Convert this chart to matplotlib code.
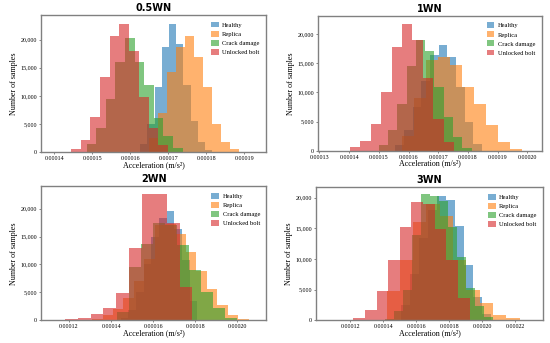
import numpy as np
import matplotlib
matplotlib.use('Agg')
import matplotlib.pyplot as plt
from matplotlib.ticker import FuncFormatter, FormatStrFormatter

series = ['Healthy', 'Replica', 'Crack damage', 'Unlocked bolt']
colors = ['tab:blue', 'tab:orange', 'tab:green', 'tab:red']
titles = ['0.5WN', '1WN', '2WN', '3WN']

# (min, max) of each histogram and its bin counts
range_05wn = [(0.0001626, 0.0001816), (0.0001650, 0.0001886), (0.0001485, 0.0001738), (0.0001444, 0.0001699)]
counts_05wn = [
    [1500, 5000, 11600, 18700, 22800, 19300, 12000, 5500, 1800, 400],
    [2500, 7000, 14300, 18700, 20700, 17000, 11600, 5000, 1800, 500],
    [1500, 4200, 9500, 16000, 20400, 16000, 11900, 6000, 2800, 700],
    [500, 2100, 6200, 13400, 20600, 22900, 18000, 9800, 4200, 1200],
]

range_1wn = [(0.0001555, 0.0001847), (0.0001578, 0.0001982), (0.0001499, 0.0001813), (0.0001403, 0.0001753)]
counts_1wn = [
    [1000, 3500, 7500, 12000, 16400, 18100, 16100, 11000, 5000, 1200],
    [2500, 9000, 15500, 16000, 14700, 11000, 8000, 4400, 1500, 340],
    [1000, 3500, 8000, 14500, 18900, 17000, 10950, 5840, 2440, 500],
    [730, 1700, 4550, 10100, 17770, 21750, 18900, 12500, 5500, 1500],
]

range_2wn = [(0.0001445, 0.0001810), (0.0001310, 0.0002053), (0.0001426, 0.0001998), (0.0001183, 0.0001786)]
counts_2wn = [
    [400, 1800, 5000, 10000, 15000, 18300, 19500, 16400, 10800, 3500],
    [300, 900, 2000, 4000, 7000, 11000, 17000, 17300, 15500, 12300, 8750, 5650, 2800, 1000, 240],
    [1500, 9500, 13600, 17500, 17000, 13500, 9000, 5000, 2200, 500],
    [200, 420, 1130, 2200, 4900, 13000, 22700, 22600, 17400, 6000],
]

range_3wn = [(0.0001505, 0.0002055), (0.0001420, 0.0002228), (0.0001412, 0.0002067), (0.0001218, 0.0001925)]
counts_3wn = [
    [2500, 7500, 13500, 18000, 20300, 19600, 15400, 9000, 3800, 1100],
    [4800, 9800, 16000, 18900, 17000, 9800, 4950, 2800, 900, 380],
    [300, 1500, 5000, 14000, 20600, 20300, 19500, 15200, 10300, 5200, 2300, 600],
    [380, 1700, 4800, 9800, 15300, 19300, 18900, 14900, 9800, 3600],
]

xlims = [(0.0001365, 0.0001957), (0.0001294, 0.0002048), (0.0001067, 0.0002138), (0.0000992, 0.0002370)]
ylims = [24400, 23100, 24000, 21700]
xticks = [np.arange(0.00014, 0.000191, 0.00001),
          np.arange(0.00013, 0.000201, 0.00001),
          np.arange(0.00012, 0.000201, 0.00002),
          np.arange(0.00012, 0.000221, 0.00002)]
boxes = [[0.0745, 0.557, 0.409, 0.399],
         [0.5776, 0.560, 0.407, 0.394],
         [0.0745, 0.066, 0.410, 0.391],
         [0.5745, 0.066, 0.413, 0.388]]

plt.rcParams['font.family'] = ['Liberation Serif', 'DejaVu Serif']

fig = plt.figure(figsize=(5.5, 3.43), dpi=100)
data = [(range_05wn, counts_05wn), (range_1wn, counts_1wn),
        (range_2wn, counts_2wn), (range_3wn, counts_3wn)]

for i, (ranges, counts) in enumerate(data):
    ax = fig.add_axes(boxes[i])
    for (lo, hi), c, col, name in zip(ranges, counts, colors, series):
        edges = np.linspace(lo, hi, len(c) + 1)
        ax.stairs(c, edges, fill=True, color=col, alpha=0.6, label=name, linewidth=0)
    ax.set_xlim(*xlims[i])
    ax.set_ylim(0, ylims[i])
    ax.set_xticks(xticks[i])
    ax.xaxis.set_major_formatter(FormatStrFormatter('%.5f'))
    ax.set_yticks([0, 5000, 10000, 15000, 20000])
    ax.yaxis.set_major_formatter(FuncFormatter(lambda v, p: '{:,.0f}'.format(v)))
    ax.tick_params(labelsize=4.3, length=1.5, width=0.5, pad=1.2, color='#555555')
    for s in ax.spines.values():
        s.set_color('#808080')
        s.set_linewidth(1.0)
    ax.set_xlabel('Acceleration (m/s²)', fontsize=5.8, labelpad=0)
    ax.set_ylabel('Number of samples', fontsize=5.8, labelpad=2)
    ax.set_title(titles[i], fontsize=7, fontweight='bold', family='DejaVu Sans', pad=3)
    ax.legend(loc='upper right', frameon=False, fontsize=4.7, handlelength=1.2,
              handleheight=1.0, labelspacing=0.45, handletextpad=0.5, borderaxespad=0.6)

fig.savefig('out.png', dpi=100)
